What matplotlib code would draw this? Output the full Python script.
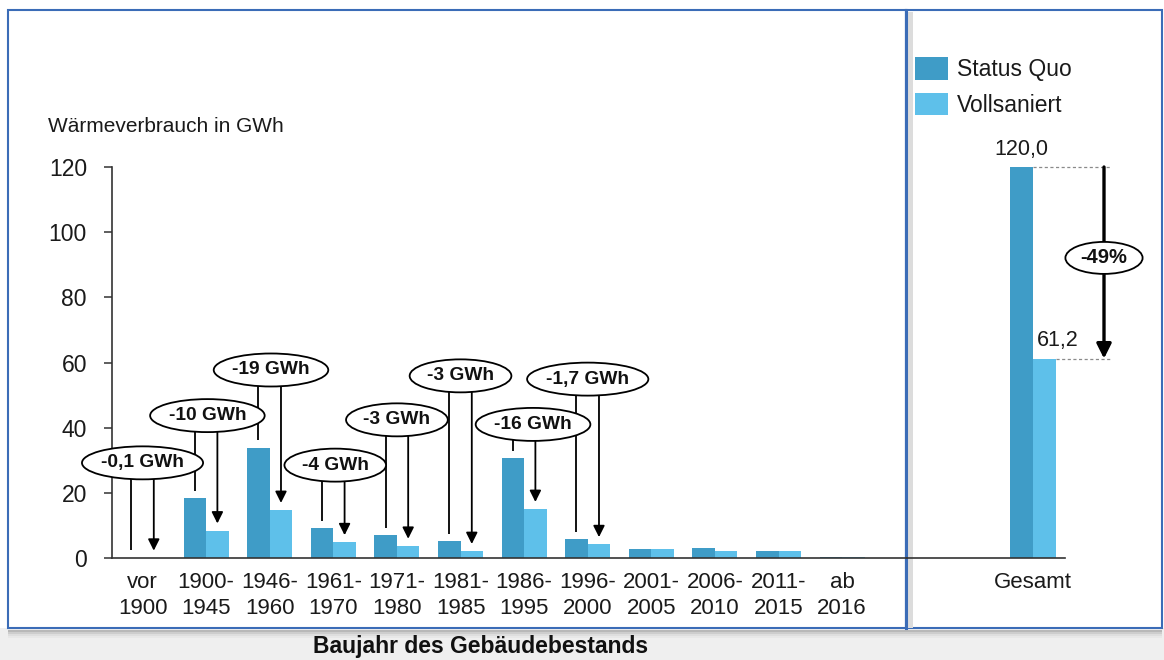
import matplotlib
matplotlib.use('Agg')
import matplotlib.pyplot as plt
from matplotlib.patches import Rectangle, Ellipse
from matplotlib.lines import Line2D
import numpy as np

plt.rcParams['font.family'] = ['Liberation Sans', 'DejaVu Sans']

# ---------------- data ----------------
categories = ['vor\n1900', '1900-\n1945', '1946-\n1960', '1961-\n1970', '1971-\n1980',
              '1981-\n1985', '1986-\n1995', '1996-\n2000', '2001-\n2005', '2006-\n2010',
              '2011-\n2015', 'ab\n2016']
status_quo = [0.15, 18.5, 33.9, 9.1, 7.1, 5.2, 30.6, 5.8, 2.7, 3.1, 2.0, 0.4]
vollsaniert = [0.05, 8.4, 14.7, 4.8, 3.7, 2.1, 15.0, 4.2, 2.7, 2.0, 2.0, 0.3]
savings_labels = ['-0,1 GWh', '-10 GWh', '-19 GWh', '-4 GWh', '-3 GWh', '-3 GWh',
                  '-16 GWh', '-1,7 GWh']
total_category = 'Gesamt'
total_status_quo = 120.0
total_vollsaniert = 61.2
total_label_sq = '120,0'
total_label_vs = '61,2'
total_change = '-49%'
series_names = ['Status Quo', 'Vollsaniert']
y_ticks = [0, 20, 40, 60, 80, 100, 120]

# ---------------- layout ----------------
label_y = [29.2, 43.7, 57.7, 28.5, 42.4, 55.9, 41.0, 54.9]   # ellipse centre heights
label_dx = [0, 0.02, 0.02, 0.03, 0, 0, 0.14, 0]
change_y = 92.1

W, H = 1164, 660
SQ = '#3f9cc7'
VS = '#5ec0ea'
BORDER = '#3b6cb7'


def fig_rect(l, t, r, b):
    return [l / W, 1 - b / H, (r - l) / W, (b - t) / H]


fig = plt.figure(figsize=(W / 100, H / 100), dpi=100)
fig.patch.set_facecolor('white')

# backgrounds / frames
fig.add_artist(Rectangle((0, 0), 1, 1 - 628 / H, transform=fig.transFigure,
                         fc='#efefef', ec='none', zorder=-10))
for i, c in enumerate(['#b8b8b8', '#cdcdcd', '#dedede', '#e8e8e8']):
    fig.add_artist(Rectangle((8 / W, 1 - (630 + 2 * (i + 1)) / H), (1162 - 8) / W, 2 / H,
                             transform=fig.transFigure, fc=c, ec='none', zorder=-9))
fig.add_artist(Rectangle((8 / W, 1 - 628 / H), (906 - 8) / W, (628 - 10) / H,
                         transform=fig.transFigure, fc='white', ec=BORDER, lw=1.5, zorder=-8))
fig.add_artist(Rectangle((906 / W, 1 - 628 / H), (1162 - 906) / W, (628 - 10) / H,
                         transform=fig.transFigure, fc='white', ec=BORDER, lw=1.5, zorder=-8))
fig.add_artist(Rectangle((908 / W, 1 - 628 / H), 5 / W, (628 - 12) / H,
                         transform=fig.transFigure, fc='#dcdcdc', ec='none', zorder=-7))
fig.add_artist(Line2D([906 / W, 906 / W], [1 - 10 / H, 1 - 628 / H], transform=fig.transFigure,
                      color=BORDER, lw=2.2, zorder=-6))

bw = 0.354
ppu = (907 - 112) / 12.5          # pixels per category unit
x = np.arange(len(categories))

# ---------------- main axes ----------------
ax = fig.add_axes(fig_rect(112, 167, 907, 558))
ax.set_facecolor('none')
ax.set_xlim(-0.48, 12.02)
ax.set_ylim(0, 120)
b1 = ax.bar(x - bw / 2, status_quo, bw, color=SQ, zorder=2)
b2 = ax.bar(x + bw / 2, vollsaniert, bw, color=VS, zorder=2)
for s in ['top', 'right']:
    ax.spines[s].set_visible(False)
ax.spines['left'].set_color('#333333')
ax.spines['bottom'].set_color('#333333')
ax.spines['left'].set_linewidth(1.2)
ax.spines['bottom'].set_linewidth(1.2)
ax.set_yticks(y_ticks)
ax.tick_params(axis='y', length=6, width=1.1, color='#333333', labelsize=16.5, pad=12,
               labelcolor='#1a1a1a')
ax.set_xticks(x)
ax.set_xticklabels(categories, fontsize=16, color='#1a1a1a', linespacing=1.3)
ax.tick_params(axis='x', length=0, pad=10)

fig.text(48 / W, 1 - 127 / H, 'Wärmeverbrauch in GWh', fontsize=15, va='center', ha='left',
         color='#1a1a1a')
fig.text(481 / W, 1 - 646 / H, 'Baujahr des Gebäudebestands', fontsize=16.5, va='center',
         ha='center', weight='bold', color='#111111')

# ---------------- total axes ----------------
ax2 = fig.add_axes(fig_rect(907, 167, 1065, 558))
ax2.set_facecolor('none')
ax2.set_xlim(-(1033 - 907) / ppu, (1065 - 1033) / ppu)
ax2.set_ylim(0, 120)
ax2.bar([-bw / 2], [total_status_quo], bw, color=SQ, zorder=2)
ax2.bar([bw / 2], [total_vollsaniert], bw, color=VS, zorder=2)
for s in ['top', 'right', 'left']:
    ax2.spines[s].set_visible(False)
ax2.spines['bottom'].set_color('#333333')
ax2.spines['bottom'].set_linewidth(1.2)
ax2.set_yticks([])
ax2.set_xticks([0])
ax2.set_xticklabels([total_category], fontsize=16, color='#1a1a1a')
ax2.tick_params(axis='x', length=0, pad=10)

ax2.text(-bw / 2, total_status_quo + 2.3, total_label_sq, ha='center', va='bottom',
         fontsize=15.5, color='#1a1a1a')
ax2.text(0.06, total_vollsaniert + 2.3, total_label_vs, ha='left', va='bottom',
         fontsize=15.5, color='#1a1a1a')

arrow_x = (1104 - 1033) / ppu
dash_end = (1110 - 1033) / ppu
ax2.plot([0, dash_end], [total_status_quo, total_status_quo], ls=(0, (2.5, 2)),
         color='#8a8a8a', lw=0.9, clip_on=False)
ax2.plot([bw, dash_end], [total_vollsaniert, total_vollsaniert], ls=(0, (2.5, 2)),
         color='#8a8a8a', lw=0.9, clip_on=False)
ax2.annotate('', xy=(arrow_x, total_vollsaniert), xytext=(arrow_x, total_status_quo),
             arrowprops=dict(arrowstyle='-|>', color='black', lw=2.4, mutation_scale=22,
                             shrinkA=0, shrinkB=0), annotation_clip=False)

# ---------------- savings annotations ----------------
gap = 2.2
for i, lab in enumerate(savings_labels):
    xs = i - bw / 2
    xv = i + bw / 2
    y0 = label_y[i]
    ax.plot([xs, xs], [y0, status_quo[i] + gap], color='black', lw=1.3, zorder=3,
            solid_capstyle='butt')
    ax.annotate('', xy=(xv, vollsaniert[i] + gap), xytext=(xv, y0),
                arrowprops=dict(arrowstyle='-|>', color='black', lw=1.3, mutation_scale=17,
                                shrinkA=0, shrinkB=0), zorder=3)

fig.canvas.draw()
renderer = fig.canvas.get_renderer()


def ellipse_label(axis, cx, cy, text, fs, extra_h=33):
    t = axis.text(cx, cy, text, ha='center', va='center', fontsize=fs, weight='bold',
                  color='#111111', zorder=6)
    bb = t.get_window_extent(renderer=renderer)
    wpx = bb.width * 1.22 + 20
    hpx = extra_h
    p0 = axis.transData.inverted().transform((0, 0))
    p1 = axis.transData.inverted().transform((wpx, hpx))
    e = Ellipse((cx, cy), width=p1[0] - p0[0], height=p1[1] - p0[1], fc='white',
                ec='black', lw=1.3, zorder=5, clip_on=False)
    axis.add_patch(e)


for i, lab in enumerate(savings_labels):
    ellipse_label(ax, i + label_dx[i], label_y[i], lab, 13.8)

ellipse_label(ax2, arrow_x, change_y, total_change, 14.5, extra_h=32)

# legend
leg = fig.legend([b1, b2], series_names, loc='upper left',
                 bbox_to_anchor=(915 / W, 1 - 57 / H), bbox_transform=fig.transFigure,
                 frameon=False, fontsize=16.5, handlelength=1.45, handleheight=1.15,
                 handletextpad=0.38, labelspacing=0.5, borderpad=0, borderaxespad=0)
for t in leg.get_texts():
    t.set_color('#1a1a1a')

fig.savefig('out.png', dpi=100, facecolor=fig.get_facecolor())
